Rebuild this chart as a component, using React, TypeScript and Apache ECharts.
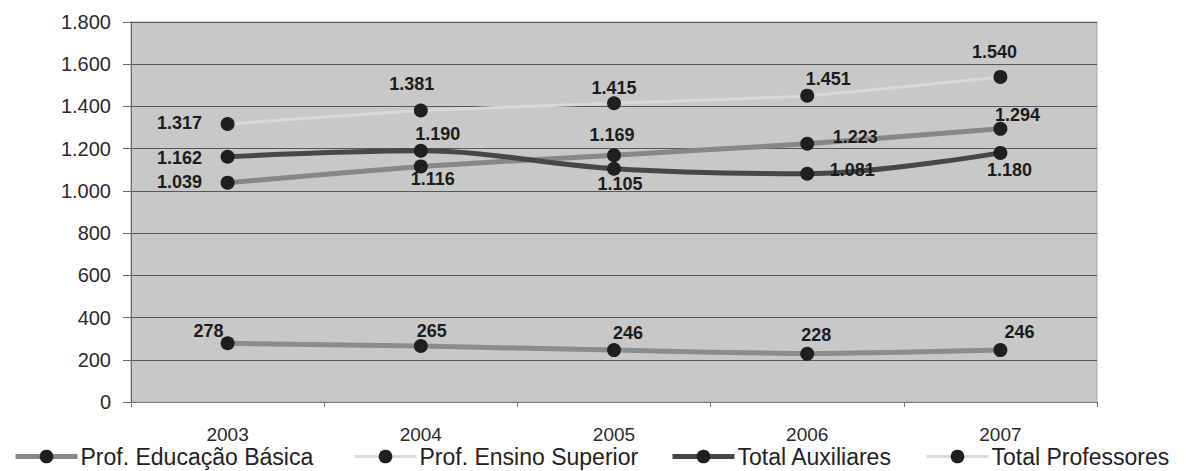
import React, { useEffect, useRef } from "react";
import * as echarts from "echarts";

const categories = ["2003", "2004", "2005", "2006", "2007"];
const basica = [1039, 1116, 1169, 1223, 1294];
const superior = [278, 265, 246, 228, 246];
const auxiliares = [1162, 1190, 1105, 1081, 1180];
const totalProf = [1317, 1381, 1415, 1451, 1540];
const seriesNames = [
  "Prof. Educação Básica",
  "Prof. Ensino Superior",
  "Total Auxiliares",
  "Total Professores",
];

// label offsets (dx, dy) from the marker centre
const basicaOff = [[-48, -1], [12, 13], [-2, -20], [48, -7], [17, -14]];
const superiorOff = [[-19, -12], [11, -15], [14, -17], [9, -19], [19, -18]];
const auxOff = [[-48, 1], [17, -17], [6, 15], [45, -4], [9, 17]];
const totalOff = [[-48, -1], [-9, -26], [0, -15], [21, -17], [-6, -25]];

const FONT = "Liberation Sans, Arial, sans-serif";

const fmt = (v: number) => {
  const s = String(Math.round(v));
  return s.replace(/\B(?=(\d{3})+(?!\d))/g, ".");
};

const mkData = (vals: number[], offs: number[][]) =>
  vals.map((v, i) => ({ value: v, label: { offset: offs[i] } }));

const labelStyle = {
  show: true,
  position: "inside",
  fontFamily: FONT,
  fontWeight: "bold" as const,
  fontSize: 18,
  color: "#1c1c1c",
  formatter: (p: any) => fmt(p.value),
};

const lineColors = ["#878787", "#8c8c8c", "#474747", "#d8d8d8"];
const legendLineColors = ["#878787", "#dcdcdc", "#474747", "#dcdcdc"];
const legendLineWidths = [5, 3, 5, 3];

export default function App() {
  const ref = useRef<HTMLDivElement>(null);
  useEffect(() => {
    if (!ref.current) return;
    const chart = echarts.init(ref.current, undefined, { renderer: "svg" });
    const marker = { color: "#1f1f1f" };
    const legendLefts = [5, 345, 662, 917];
    const legendText = {
      fontFamily: FONT,
      fontSize: 23,
      color: "#222",
      padding: [0, 0, 0, -2],
    };
    chart.setOption({
      animation: false,
      grid: {
        left: 123,
        right: 92,
        top: 14,
        bottom: 69,
        show: true,
        backgroundColor: "#c8c8c8",
        borderColor: "#a8a8a8",
        borderWidth: 1,
      },
      legend: seriesNames.map((n, i) => ({
        left: legendLefts[i],
        top: 437,
        itemWidth: 62,
        itemHeight: 17,
        padding: 0,
        textStyle: legendText,
        data: [n],
        lineStyle: { color: legendLineColors[i], width: legendLineWidths[i] },
        itemStyle: { color: "#1f1f1f" },
      })),
      xAxis: {
        type: "category",
        data: categories,
        boundaryGap: true,
        axisLine: { lineStyle: { color: "#777", width: 1 } },
        axisTick: { show: true, length: 5, lineStyle: { color: "#777" } },
        axisLabel: {
          margin: 23,
          fontFamily: FONT,
          fontSize: 19,
          color: "#2a2a2a",
        },
      },
      yAxis: {
        type: "value",
        min: 0,
        max: 1800,
        interval: 200,
        axisLine: { show: true, lineStyle: { color: "#666", width: 1 } },
        axisTick: { show: true, length: 8, lineStyle: { color: "#666" } },
        splitLine: { show: true, lineStyle: { color: "#585858", width: 1 } },
        axisLabel: {
          margin: 20,
          fontFamily: FONT,
          fontSize: 20,
          color: "#2a2a2a",
          formatter: (v: number) => fmt(v),
        },
      },
      series: [
        {
          name: seriesNames[0],
          type: "line",
          data: mkData(basica, basicaOff),
          smooth: 0.15,
          symbol: "circle",
          symbolSize: 14,
          lineStyle: { color: lineColors[0], width: 5 },
          itemStyle: marker,
          label: labelStyle,
          z: 3,
        },
        {
          name: seriesNames[1],
          type: "line",
          data: mkData(superior, superiorOff),
          smooth: 0.15,
          symbol: "circle",
          symbolSize: 14,
          lineStyle: { color: lineColors[1], width: 5 },
          itemStyle: marker,
          label: labelStyle,
          z: 3,
        },
        {
          name: seriesNames[2],
          type: "line",
          data: mkData(auxiliares, auxOff),
          smooth: 0.35,
          symbol: "circle",
          symbolSize: 14,
          lineStyle: { color: lineColors[2], width: 5 },
          itemStyle: marker,
          label: labelStyle,
          z: 4,
        },
        {
          name: seriesNames[3],
          type: "line",
          data: mkData(totalProf, totalOff),
          smooth: 0.15,
          symbol: "circle",
          symbolSize: 14,
          lineStyle: { color: lineColors[3], width: 3 },
          itemStyle: marker,
          label: labelStyle,
          z: 2,
        },
      ],
    });
    return () => chart.dispose();
  }, []);
  return <div ref={ref} style={{ width: 1181, height: 463 }} />;
}
